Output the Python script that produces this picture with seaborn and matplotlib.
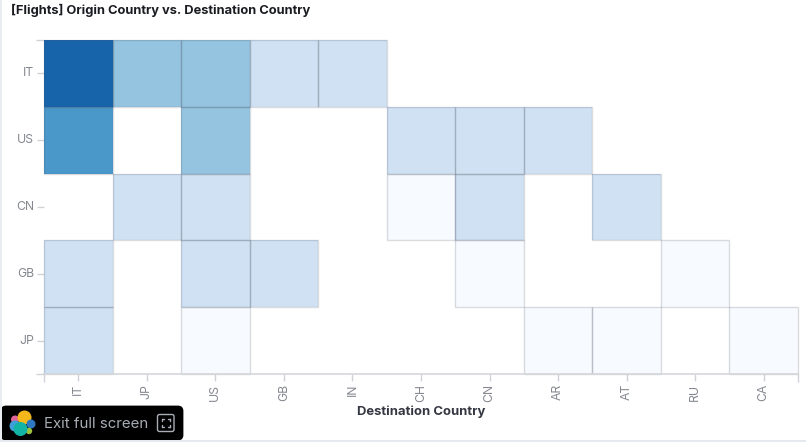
import numpy as np
import pandas as pd
import seaborn as sns
import matplotlib
matplotlib.use("Agg")
import matplotlib.pyplot as plt
from matplotlib.colors import ListedColormap, BoundaryNorm
from matplotlib.patches import FancyBboxPatch, Circle, Rectangle

origins = ["IT", "US", "CN", "GB", "JP"]
destinations = ["IT", "JP", "US", "GB", "IN", "CH", "CN", "AR", "AT", "RU", "CA"]
nan = np.nan
row_it = [5, 3, 3, 2, 2, nan, nan, nan, nan, nan, nan]
row_us = [4, nan, 3, nan, nan, 2, 2, 2, nan, nan, nan]
row_cn = [nan, 2, 2, nan, nan, 1, 2, nan, 2, nan, nan]
row_gb = [2, nan, 2, 2, nan, nan, 1, nan, nan, 1, nan]
row_jp = [2, nan, 1, nan, nan, nan, nan, 1, 1, nan, 1]
level_colors = ["#f7fbff", "#cfe1f2", "#94c4df", "#4a98c9", "#1764ab"]

W, H = 806, 442
sns.set_theme(style="white")
plt.rcParams["font.family"] = ["Inter", "DejaVu Sans"]

df = pd.DataFrame([row_it, row_us, row_cn, row_gb, row_jp], index=origins, columns=destinations)

fig = plt.figure(figsize=(W / 100, H / 100), dpi=100, facecolor="white")
ax = fig.add_axes([44 / W, 1 - 374 / H, (798 - 44) / W, (374 - 40) / H])
cmap = ListedColormap(level_colors)
norm = BoundaryNorm([0.5, 1.5, 2.5, 3.5, 4.5, 5.5], cmap.N)
sns.heatmap(df, ax=ax, cmap=cmap, norm=norm, cbar=False, linewidths=0)

# translucent outline around every filled cell only
for r, c in zip(*np.where(df.notna().values)):
    ax.add_patch(Rectangle((c, r), 1, 1, fc="none", ec=(0.3, 0.33, 0.4, 0.2), lw=1.0, clip_on=False))

# ticks: category centres plus the two range ends
tick_gray = "#d0d2d7"
ax.set_xticks(np.arange(len(destinations)) + 0.5, destinations, rotation=90)
ax.set_yticks(np.arange(len(origins)) + 0.5, origins, rotation=0)
ax.tick_params(axis="both", length=5, width=1, color=tick_gray, labelcolor="#85888f",
               labelsize=8.8, pad=2, left=True, bottom=True)
ax.set_xticks([0, len(destinations)], minor=True)
ax.set_yticks([0, len(origins)], minor=True)
ax.tick_params(axis="both", which="minor", length=6, width=1, color=tick_gray, left=True, bottom=True)

for name, sp in ax.spines.items():
    sp.set_visible(name == "bottom")
    sp.set_color("#d5d7db")
    sp.set_linewidth(1.2)

ax.set_xlabel("Destination Country", fontsize=9.4, fontweight="bold", color="#343741", labelpad=1)
ax.xaxis.set_label_coords((421 - 44) / (798 - 44), -(415 - 374) / (374 - 40), transform=ax.transAxes)
ax.xaxis.label.set_va("baseline")
ax.set_ylabel("")

fig.text(11 / W, 1 - 14 / H, "[Flights] Origin Country vs. Destination Country",
         fontsize=9.3, fontweight="bold", color="#1a1c21", va="baseline", ha="left")

# page edges
fig.add_artist(Rectangle((0, 0), 2 / W, 1, transform=fig.transFigure, color="#e9ecf1", lw=0))
fig.add_artist(Rectangle((0, 0), 1, 2.5 / H, transform=fig.transFigure, color="#e6e9ef", lw=0))

# overlay (pixel coordinates on an invisible full-figure axes)
ov = fig.add_axes([0, 0, 1, 1], facecolor="none")
ov.set_xlim(0, W); ov.set_ylim(H, 0); ov.axis("off")
ov.add_patch(FancyBboxPatch((2, 407), 180, 32, boxstyle="round,pad=0,rounding_size=4", fc="black", ec="black", lw=2))
for cx, cy, r, c in [(15, 419.5, 4, "#e0649b"), (15, 426, 5.5, "#3f9fd8"), (24.5, 417.5, 7, "#f5b81c"),
                     (31, 424, 4.5, "#2e78c2"), (29, 431, 3.2, "#9ac13c"), (20.5, 429, 7, "#12b5a5")]:
    ov.add_patch(Circle((cx, cy), r, fc=c, ec="none"))
ov.text(44, 424, "Exit full screen", color="#a9adb5", fontsize=10.8, va="center", ha="left")
ov.add_patch(FancyBboxPatch((157.5, 414.5), 16.5, 17, boxstyle="round,pad=0,rounding_size=2", fc="none", ec="#a9adb5", lw=1))
for sx, sy in [(162, 419), (170, 419), (162, 427), (170, 427)]:
    ov.plot([sx, sx + (2 if sx < 166 else -2)], [sy, sy], color="#a9adb5", lw=1)
    ov.plot([sx, sx], [sy, sy + (2 if sy < 423 else -2)], color="#a9adb5", lw=1)

fig.savefig("out.png", dpi=100, facecolor="white")
